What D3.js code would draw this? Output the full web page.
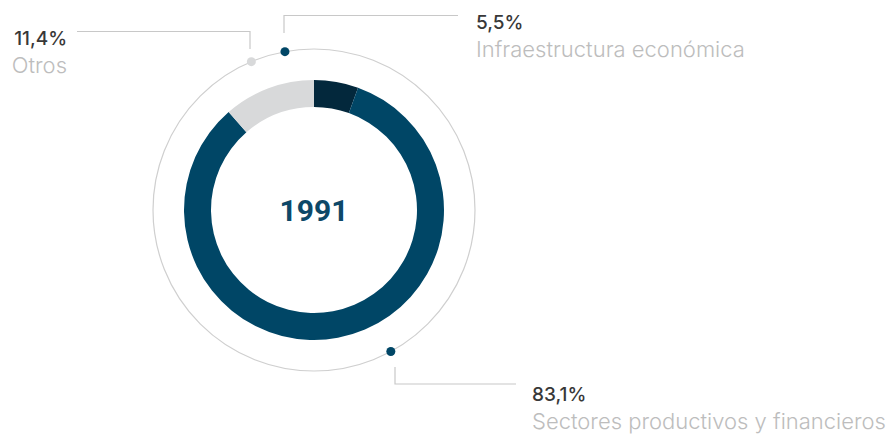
<!DOCTYPE html>
<html>
<head>
<meta charset="utf-8">
<script src="https://cdn.jsdelivr.net/npm/d3@7"></script>
<style>
  body { margin: 0; background: #fff; }
  svg { display: block; font-family: Roboto, "Noto Sans", sans-serif; }
</style>
</head>
<body>
<div id="container"></div>
<script>
// ******* Data *******
var categories = ["Infraestructura económica", "Sectores productivos y financieros", "Otros"];
var values = [5.5, 83.1, 11.4];
var valueLabels = ["5,5%", "83,1%", "11,4%"];
var colors = ["#03283c", "#004666", "#d8d9da"];
var dotColors = ["#004666", "#004666", "#d8d9da"];
var dotAngles = [-10.4, 151.5, -22.9]; // degrees clockwise from top
var centerLabel = "1991";

var width = 891, height = 436;
var cx = 314, cy = 210;
var outerR = 130, innerR = 103, ringR = 161;

var svg = d3.select("#container").append("svg")
  .attr("width", width)
  .attr("height", height);

var g = svg.append("g").attr("transform", "translate(" + cx + "," + cy + ")");

// thin outer ring
g.append("circle")
  .attr("r", ringR)
  .attr("fill", "none")
  .attr("stroke", "#cfcfcf")
  .attr("stroke-width", 1.2);

var pie = d3.pie().sort(null).value(function(d) { return d; });
var arc = d3.arc().innerRadius(innerR).outerRadius(outerR);

g.selectAll("path.slice")
  .data(pie(values))
  .enter().append("path")
  .attr("class", "slice")
  .attr("d", arc)
  .attr("fill", function(d, i) { return colors[i]; });

g.append("text")
  .attr("text-anchor", "middle")
  .attr("y", 11)
  .attr("fill", "#0d4868")
  .style("font-size", "30px")
  .style("font-weight", 700)
  .text(centerLabel);

// ******* Leader lines and labels *******
var leaders = [
  { vx: 284, vy0: 33, vy1: 15.5, hx: 458, tx: 476, ty: 29, anchor: "start" },
  { vx: 395, vy0: 367, vy1: 384, hx: 516, tx: 532, ty: 401, anchor: "start" },
  { vx: 250, vy0: 49, vy1: 31.5, hx: 77, tx: 67, ty: 45, anchor: "end" }
];

var line = svg.append("g");
leaders.forEach(function(l, i) {
  line.append("path")
    .attr("d", "M" + l.vx + "," + l.vy0 + "V" + l.vy1 + "H" + l.hx)
    .attr("fill", "none")
    .attr("stroke", "#c8c8c8")
    .attr("stroke-width", 1.2);

  var a = dotAngles[i] * Math.PI / 180;
  svg.append("circle")
    .attr("cx", cx + ringR * Math.sin(a))
    .attr("cy", cy - ringR * Math.cos(a))
    .attr("r", 4.5)
    .attr("fill", dotColors[i]);

  svg.append("text")
    .attr("x", l.tx)
    .attr("y", l.ty)
    .attr("text-anchor", l.anchor)
    .attr("fill", "#383838")
    .style("font-family", "Inter, Roboto, sans-serif")
    .style("font-size", "19px")
    .style("font-weight", 500)
    .text(valueLabels[i]);

  svg.append("text")
    .attr("x", l.tx)
    .attr("y", l.ty + 28)
    .attr("text-anchor", l.anchor)
    .attr("fill", "#bdbdbd")
    .style("font-family", "Inter, Roboto, sans-serif")
    .style("font-size", "22px")
    .style("font-weight", 300)
    .text(categories[i]);
});
</script>
</body>
</html>
